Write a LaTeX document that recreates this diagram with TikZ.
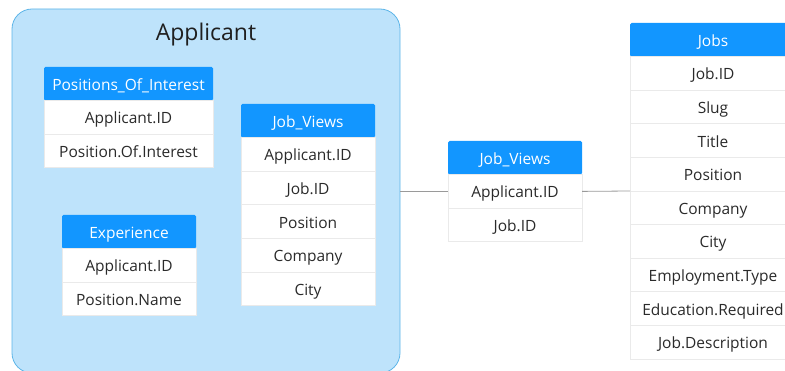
\documentclass[tikz,border=0pt]{standalone}
\usepackage{fontspec}
\setmainfont{Open Sans}
\usetikzlibrary{positioning}
\definecolor{headblue}{HTML}{1296FF}
\definecolor{groupfill}{HTML}{BEE3FB}
\definecolor{groupdraw}{HTML}{5DB5E8}
\definecolor{celltext}{HTML}{2A2A2A}
\definecolor{cellline}{HTML}{EAEAEA}
\definecolor{linkgray}{HTML}{9A9A9A}
\tikzstyle{group} = [draw=groupdraw, fill=groupfill, line width=0.8pt,
    rectangle, rounded corners=20pt, inner sep=0pt, outer sep=0pt]
\tikzstyle{grouptitle} = [text=black!88, font=\fontsize{23}{26}\selectfont]
\tikzstyle{tablehead} = [fill=headblue, text=white, rectangle, rounded corners=1.5pt,
    minimum height=33.6pt, inner sep=0pt, outer sep=0pt, text height=15pt, text depth=2pt,
    font=\fontsize{15.5}{18}\selectfont]
\tikzstyle{tablerow} = [draw=cellline, fill=white, text=celltext, line width=0.7pt, rectangle,
    minimum height=33.6pt, inner sep=0pt, outer sep=0pt, text height=15pt, text depth=2pt,
    font=\fontsize{15.5}{18}\selectfont]

\begin{document}
\begin{tikzpicture}[x=1pt, y=-1pt]
    \useasboundingbox (0,0) rectangle (785,371);
    % applicant group
    \node [group, minimum width=388pt, minimum height=364pt, anchor=north west] (applicant) at (12,9) {};
    \node [grouptitle] (applicanttitle) at (206,35) {Applicant};

    % positions of interest
    \node [tablehead, minimum width=169pt, anchor=north west] (poi) at (44,67) {Positions\_Of\_Interest};
    \node [tablerow, minimum width=169pt, below=0pt of poi] (poi1) {Applicant.ID};
    \node [tablerow, minimum width=169pt, below=0pt of poi1] (poi2) {Position.Of.Interest};

    % experience
    \node [tablehead, minimum width=134pt, anchor=north west] (exp) at (62,215) {Experience};
    \node [tablerow, minimum width=134pt, below=0pt of exp] (exp1) {Applicant.ID};
    \node [tablerow, minimum width=134pt, below=0pt of exp1] (exp2) {Position.Name};

    % job views inside applicant
    \node [tablehead, minimum width=134pt, anchor=north west] (views) at (241,104) {Job\_Views};
    \node [tablerow, minimum width=134pt, below=0pt of views] (views1) {Applicant.ID};
    \node [tablerow, minimum width=134pt, below=0pt of views1] (views2) {Job.ID};
    \node [tablerow, minimum width=134pt, below=0pt of views2] (views3) {Position};
    \node [tablerow, minimum width=134pt, below=0pt of views3] (views4) {Company};
    \node [tablerow, minimum width=134pt, below=0pt of views4] (views5) {City};

    % job views link table
    \node [tablehead, minimum width=134pt, anchor=north west] (link) at (448,141) {Job\_Views};
    \node [tablerow, minimum width=134pt, below=0pt of link] (link1) {Applicant.ID};
    \node [tablerow, minimum width=134pt, below=0pt of link1] (link2) {Job.ID};

    % jobs
    \node [tablehead, minimum width=166pt, anchor=north west] (jobs) at (630,23) {Jobs};
    \node [tablerow, minimum width=166pt, below=0pt of jobs] (jobs1) {Job.ID};
    \node [tablerow, minimum width=166pt, below=0pt of jobs1] (jobs2) {Slug};
    \node [tablerow, minimum width=166pt, below=0pt of jobs2] (jobs3) {Title};
    \node [tablerow, minimum width=166pt, below=0pt of jobs3] (jobs4) {Position};
    \node [tablerow, minimum width=166pt, below=0pt of jobs4] (jobs5) {Company};
    \node [tablerow, minimum width=166pt, below=0pt of jobs5] (jobs6) {City};
    \node [tablerow, minimum width=166pt, below=0pt of jobs6] (jobs7) {Employment.Type};
    \node [tablerow, minimum width=166pt, below=0pt of jobs7] (jobs8) {Education.Required};
    \node [tablerow, minimum width=166pt, below=0pt of jobs8] (jobs9) {Job.Description};

    % links
    \draw [linkgray, line width=0.8pt] (applicant.east |- link1.west) -- (link1.west);
    \draw [linkgray, line width=0.8pt] (link1.east) -- (jobs4.south west);
\end{tikzpicture}
\end{document}
